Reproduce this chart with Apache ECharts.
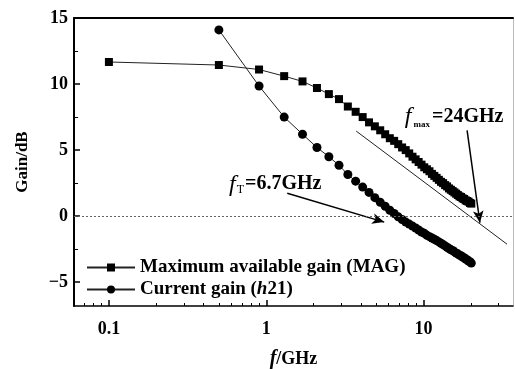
<!DOCTYPE html>
<html><head><meta charset="utf-8">
<script src="https://cdn.jsdelivr.net/npm/echarts@6/dist/echarts.min.js"></script>
<style>html,body{margin:0;padding:0;background:#fff}#c{width:515px;height:369px}</style>
</head><body><div id="c"></div>
<script>
const FREQ_GHZ = [0.1,0.5,0.9,1.3,1.7,2.1,2.5,2.9,3.3,3.7,4.1,4.5,4.9,5.3,5.7,6.1,6.5,6.9,7.3,7.7,8.1,8.5,8.9,9.3,9.7,10.1,10.5,10.9,11.3,11.7,12.1,12.5,12.9,13.3,13.7,14.1,14.5,14.9,15.3,15.7,16.1,16.5,16.9,17.3,17.7,18.1,18.5,18.9,19.3,19.7,20.1];
const MAG_DB = [11.67,11.44,11.1,10.6,10.2,9.7,9.24,8.86,8.3,7.9,7.5,7.1,6.8,6.5,6.2,5.9,5.7,5.45,5.2,5.0,4.75,4.5,4.3,4.1,3.9,3.7,3.55,3.4,3.2,3.05,2.9,2.75,2.6,2.5,2.35,2.25,2.1,2.0,1.9,1.8,1.7,1.6,1.5,1.45,1.35,1.3,1.2,1.15,1.1,1.0,0.95];
const H21_DB = [null,14.1,9.85,7.5,6.2,5.2,4.5,3.85,3.15,2.65,2.2,1.8,1.4,1.05,0.75,0.45,0.2,-0.05,-0.25,-0.45,-0.6,-0.75,-0.9,-1.05,-1.2,-1.3,-1.45,-1.55,-1.65,-1.75,-1.85,-1.95,-2.05,-2.15,-2.25,-2.35,-2.45,-2.55,-2.6,-2.7,-2.8,-2.85,-2.95,-3.0,-3.1,-3.15,-3.25,-3.3,-3.4,-3.45,-3.55];
const SERIES_NAMES = ['Maximum available gain (MAG)', 'Current gain (h21)'];
const X_RANGE = [0.06, 37];
const Y_RANGE = [-6.8, 15];
const X_LABEL_TICKS = [0.1, 1, 10];
const X_MINOR_TICKS = [0.07,0.08,0.09,0.2,0.3,0.4,0.5,0.6,0.7,0.8,0.9,2,3,4,5,6,7,8,9,20,30];
const Y_LABEL_TICKS = [-5, 0, 5, 10, 15];
const Y_MINOR_TICKS = [-2.5, 2.5, 7.5, 12.5];
// annotation anchors (GHz, dB)
const FT_TEXT_AT = [0.58, 2.42];
const FT_ARROW = [[1.36, 1.74], [5.62, -0.45]];
const FMAX_TEXT_AT = [7.6, 7.5];
const FMAX_ARROW = [[18.9, 6.5], [22.8, -0.5]];
const TANGENT = [[3.73, 6.44], [33.9, -2.12]];

const lg = Math.log10;
const FONT = 'Liberation Serif';
const txt = (size, extra) => Object.assign({fontFamily: FONT, fontSize: size, fontWeight: 'bold', color: '#000'}, extra || {});
const fmtX = v => String(Number(Math.pow(10, v).toPrecision(3)));
const fmtY = v => v < 0 ? '\u2212' + Math.abs(v) : String(v);

const magData = FREQ_GHZ.map((f, i) => [lg(f), MAG_DB[i]]);
const h21Data = FREQ_GHZ.map((f, i) => [lg(f), H21_DB[i]]).filter(d => d[1] !== null);
const pt = p => [lg(p[0]), p[1]];

const chart = echarts.init(document.getElementById('c'), null, {renderer: 'canvas'});
const xBase = {type: 'value', min: lg(X_RANGE[0]), max: lg(X_RANGE[1]), splitLine: {show: false}};
const yBase = {type: 'value', min: Y_RANGE[0], max: Y_RANGE[1], splitLine: {show: false}};
chart.setOption({
  animation: false,
  grid: {left: 74, right: 2, top: 18, bottom: 63, containLabel: false, outerBoundsMode: 'none'},
  legend: {
    left: 86, top: 258, orient: 'vertical', padding: 0,
    itemWidth: 48, itemHeight: 10, itemGap: 3,
    data: SERIES_NAMES,
    formatter: n => n === SERIES_NAMES[1] ? 'Current gain ({i|h}21)' : n,
    textStyle: txt(19, {rich: {i: txt(19, {fontStyle: 'italic'})}})
  },
  xAxis: [
    Object.assign({}, xBase, {
      position: 'bottom',
      axisLine: {show: true, onZero: false, lineStyle: {color: '#000', width: 1.5}},
      axisTick: {show: true, inside: true, length: 6, customValues: X_LABEL_TICKS.map(lg), lineStyle: {color: '#000', width: 1.5}},
      axisLabel: {customValues: X_LABEL_TICKS.map(lg), formatter: fmtX, margin: 14, ...txt(18)},
      name: '{i|f}/GHz', nameLocation: 'middle', nameGap: 43,
      nameTextStyle: txt(18, {rich: {i: txt(20, {fontStyle: 'italic'})}})
    }),
    Object.assign({}, xBase, {
      position: 'bottom',
      axisLine: {show: false, onZero: false},
      axisTick: {show: true, inside: true, length: 3, customValues: X_MINOR_TICKS.map(lg), lineStyle: {color: '#000', width: 1}},
      axisLabel: {show: false}
    }),
    Object.assign({}, xBase, {
      position: 'top',
      axisLine: {show: true, onZero: false, lineStyle: {color: '#000', width: 2}},
      axisTick: {show: false}, axisLabel: {show: false}
    })
  ],
  yAxis: [
    Object.assign({}, yBase, {
      position: 'left',
      axisLine: {show: true, onZero: false, lineStyle: {color: '#000', width: 2}},
      axisTick: {show: true, inside: true, length: 6, customValues: Y_LABEL_TICKS, lineStyle: {color: '#000', width: 1.5}},
      axisLabel: {customValues: Y_LABEL_TICKS, formatter: fmtY, margin: 6, ...txt(18)},
      name: 'Gain/dB', nameLocation: 'middle', nameGap: 43, nameRotate: 90,
      nameTextStyle: txt(17)
    }),
    Object.assign({}, yBase, {
      position: 'left',
      axisLine: {show: false, onZero: false},
      axisTick: {show: true, inside: true, length: 4, customValues: Y_MINOR_TICKS, lineStyle: {color: '#000', width: 1}},
      axisLabel: {show: false}
    }),
    Object.assign({}, yBase, {
      position: 'right',
      axisLine: {show: true, onZero: false, lineStyle: {color: '#bbb', width: 1}},
      axisTick: {show: false}, axisLabel: {show: false}
    })
  ],
  series: [
    {
      type: 'line', name: SERIES_NAMES[0], data: magData,
      symbol: 'rect', symbolSize: 8,
      lineStyle: {color: '#222', width: 1}, itemStyle: {color: '#000'},
      markLine: {
        silent: true, symbol: 'none', label: {show: false},
        data: [
          [{coord: pt(TANGENT[0]), lineStyle: {color: '#222', width: 1, type: 'solid'}}, {coord: pt(TANGENT[1])}],
          [{coord: pt(FT_ARROW[0]), lineStyle: {color: '#000', width: 1.5, type: 'solid'}, symbol: 'none'}, {coord: pt(FT_ARROW[1]), symbol: 'arrow', symbolSize: [8, 12]}],
          [{coord: pt(FMAX_ARROW[0]), lineStyle: {color: '#000', width: 1.5, type: 'solid'}, symbol: 'none'}, {coord: pt(FMAX_ARROW[1]), symbol: 'arrow', symbolSize: [8, 12]}]
        ]
      },
      markPoint: {
        silent: true, symbol: 'circle', symbolSize: 0,
        data: [
          {coord: pt(FT_TEXT_AT), label: {show: true, position: 'right', distance: 0,
            formatter: '{i|f}{s|T}{n|=6.7GHz}',
            rich: {i: txt(24, {fontStyle: 'italic', fontWeight: 'normal'}), s: txt(12, {padding: [11, 1, 0, 1], fontWeight: 'normal'}), n: txt(20)}}},
          {coord: pt(FMAX_TEXT_AT), label: {show: true, position: 'right', distance: 0,
            formatter: '{i|f}{s|max}{n|=24GHz}',
            rich: {i: txt(24, {fontStyle: 'italic', fontWeight: 'normal'}), s: txt(9, {padding: [15, 2, 0, 2]}), n: txt(20)}}}
        ]
      }
    },
    {
      type: 'line', name: SERIES_NAMES[1], data: h21Data,
      symbol: 'circle', symbolSize: 9,
      lineStyle: {color: '#222', width: 1}, itemStyle: {color: '#000'},
      markLine: {
        silent: true, symbol: 'none', label: {show: false},
        lineStyle: {color: '#666', width: 1, type: [2, 2]},
        data: [{yAxis: 0}]
      }
    }
  ]
});
</script></body></html>
